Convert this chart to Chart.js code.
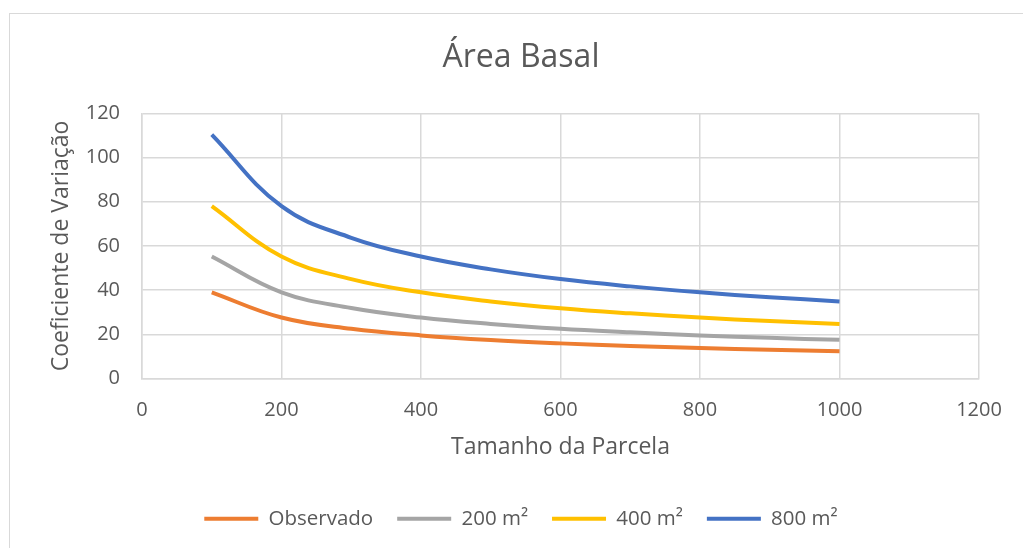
<!DOCTYPE html>
<html>
<head>
<meta charset="utf-8">
<script src="https://cdn.jsdelivr.net/npm/chart.js@4"></script>
<style>
html,body{margin:0;padding:0;background:#fff;overflow:hidden;}
#frame{position:absolute;left:9px;top:13px;width:1100px;height:600px;border:1px solid #d9d9d9;}
#c{position:absolute;left:0;top:0;}
</style>
</head>
<body>
<div id="frame"></div>
<canvas id="c" width="1023" height="548"></canvas>
<script>
const FONT = "'Open Sans', 'Liberation Sans', sans-serif";
const TXT = "#595959";
const GRID = "#d9d9d9";

/* data */
const parcela = [100, 200, 300, 400, 500, 600, 700, 800, 900, 1000];
const observado = [39.0, 27.6, 22.5, 19.5, 17.4, 15.9, 14.7, 13.8, 13.0, 12.3];
const m200 = [55.2, 39.0, 31.9, 27.6, 24.7, 22.5, 20.9, 19.5, 18.4, 17.5];
const m400 = [78.0, 55.2, 45.0, 39.0, 34.9, 31.8, 29.5, 27.6, 26.0, 24.7];
const m800 = [110.4, 78.0, 63.7, 55.2, 49.4, 45.0, 41.7, 39.0, 36.8, 34.9];

const seriesNames = ["Observado", "200 m²", "400 m²", "800 m²"];
const seriesColors = ["#ED7D31", "#A5A5A5", "#FFC000", "#4472C4"];
const seriesValues = [observado, m200, m400, m800];

const xTicks = [0, 200, 400, 600, 800, 1000, 1200];
const yTicks = [0, 20, 40, 60, 80, 100, 120];

const datasets = seriesValues.map((vals, i) => ({
  label: seriesNames[i],
  data: parcela.map((x, j) => ({x: x, y: vals[j]})),
  borderColor: seriesColors[i],
  backgroundColor: seriesColors[i],
  borderWidth: 4,
  pointRadius: 0,
  pointStyle: 'line',
  showLine: true,
  tension: 0.4,
  fill: false
}));

new Chart(document.getElementById("c"), {
  type: 'scatter',
  data: {datasets: datasets},
  options: {
    responsive: false,
    animation: false,
    layout: {padding: {left: 63, right: 44, top: 0, bottom: 9}},
    plugins: {
      title: {
        display: true,
        text: "Área Basal",
        color: TXT,
        font: {family: FONT, size: 32, weight: 'normal'},
        padding: {top: 39, bottom: 36}
      },
      legend: {
        position: 'bottom',
        labels: {
          usePointStyle: true,
          pointStyle: 'line',
          pointStyleWidth: 54,
          color: TXT,
          font: {family: FONT, size: 20.5},
          padding: 24
        }
      },
      tooltip: {enabled: false}
    },
    scales: {
      x: {
        type: 'linear',
        min: xTicks[0],
        max: xTicks[xTicks.length - 1],
        afterBuildTicks: s => { s.ticks = xTicks.map(v => ({value: v})); },
        afterFit: s => { s.height = 106; },
        grid: {color: GRID, lineWidth: 1.5, drawTicks: false},
        border: {color: GRID, width: 1.5},
        ticks: {color: TXT, font: {family: FONT, size: 20}, padding: 20, maxRotation: 0,
                callback: v => String(v)},
        title: {display: true, text: "Tamanho da Parcela", color: TXT,
                font: {family: FONT, size: 23}, padding: {top: 0, bottom: 23}}
      },
      y: {
        min: yTicks[0],
        max: yTicks[yTicks.length - 1],
        afterBuildTicks: s => { s.ticks = yTicks.map(v => ({value: v})); },
        afterFit: s => { s.width = 79; },
        grid: {color: GRID, lineWidth: 1.5, drawTicks: false},
        border: {color: GRID, width: 1.5},
        ticks: {color: TXT, font: {family: FONT, size: 20}, padding: 22,
                callback: v => String(v)},
        title: {display: true, text: "Coeficiente de Variação", color: TXT,
                font: {family: FONT, size: 23}, padding: {top: -15, bottom: 0}}
      }
    }
  }
});
</script>
</body>
</html>
